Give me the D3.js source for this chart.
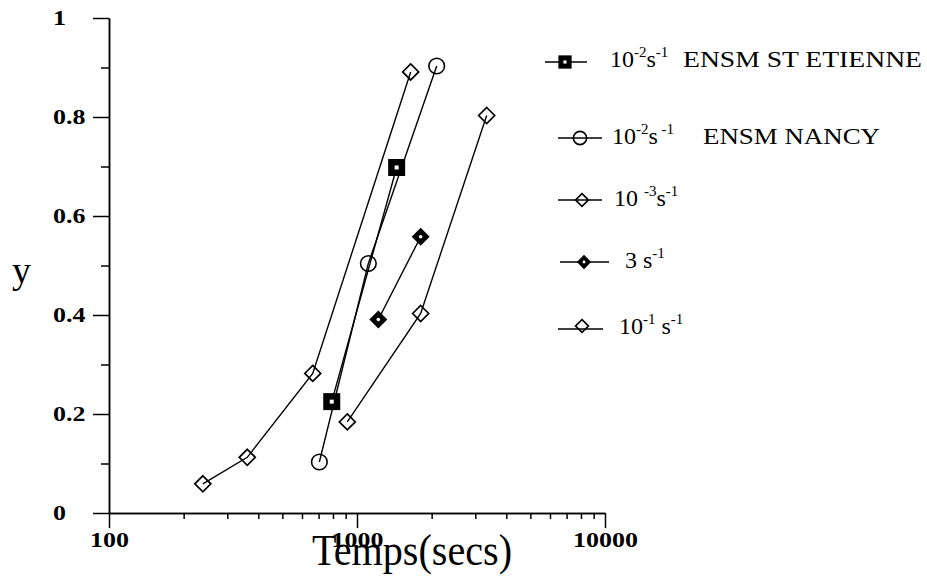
<!DOCTYPE html>
<html><head><meta charset="utf-8">
<script src="https://cdn.jsdelivr.net/npm/d3@7"></script>
<style>body{margin:0;background:#fff}</style>
</head><body>
<svg id="c" width="927" height="577"></svg>
<script>
// ---- data ----
const xTicksMajor = [100, 1000, 10000];
const xTicksMinor = [200,300,400,500,600,700,800,900,2000,3000,4000,5000,6000,7000,8000,9000];
const xTickLabels = ["100", "1000", "10000"];
const yTicksMajor = [0, 0.2, 0.4, 0.6, 0.8, 1];
const yTicksMinor = [0.1, 0.3, 0.5, 0.7, 0.9];
const yTickLabels = ["0", "0.2", "0.4", "0.6", "0.8", "1"];

const stEtienneX = [791, 1445];
const stEtienneY = [0.225, 0.698];
const nancyX = [705, 1111, 2096];
const nancyY = [0.103, 0.504, 0.903];
const rate3X = [914, 1806, 3334];
const rate3Y = [0.184, 0.403, 0.803];
const rate3sX = [1219, 1806];
const rate3sY = [0.391, 0.558];
const rate1X = [239, 361, 663, 1646];
const rate1Y = [0.059, 0.1125, 0.282, 0.891];

// ---- setup ----
const svg = d3.select("#c");
svg.append("rect").attr("width", 927).attr("height", 577).attr("fill", "#fff");
const x = d3.scaleLog().domain([100, 10000]).range([109, 605]);
const y = d3.scaleLinear().domain([0, 1]).range([513, 18]);
const serif = "'Liberation Serif','Times New Roman',serif";

// ---- axes ----
const gx = svg.append("g").attr("transform", "translate(0,513)");
gx.call(d3.axisBottom(x).tickValues(xTicksMinor).tickSize(6).tickSizeOuter(0).tickFormat(""));
const gx2 = svg.append("g").attr("transform", "translate(0,513)");
gx2.call(d3.axisBottom(x).tickValues(xTicksMajor).tickSize(15).tickSizeOuter(0)
  .tickFormat((d, i) => xTickLabels[i]).tickPadding(3));
gx2.selectAll("text").attr("font-family", serif).attr("font-weight", "bold")
  .attr("font-size", 22).attr("fill", "#000").attr("transform", "scale(1.18,1)");

const gy = svg.append("g").attr("transform", "translate(109,0)");
gy.call(d3.axisLeft(y).tickValues(yTicksMinor).tickSize(8).tickSizeOuter(0).tickFormat(""));
const gy2 = svg.append("g").attr("transform", "translate(109,0)");
gy2.call(d3.axisLeft(y).tickValues(yTicksMajor).tickSize(16).tickSizeOuter(0).tickFormat(""));
svg.selectAll(".domain, .tick line").attr("stroke", "#000").attr("stroke-width", 1.5);

svg.append("g").selectAll("text").data(yTicksMajor).join("text")
  .attr("transform", d => `translate(53,${y(d) + 7}) scale(1.18,1)`)
  .attr("font-family", serif).attr("font-weight", "bold").attr("font-size", 22)
  .attr("fill", "#000").text((d, i) => yTickLabels[i]);

// axis titles
svg.append("text").attr("x", 12).attr("y", 283).attr("font-family", serif)
  .attr("font-size", 38).attr("fill", "#000").text("y");
svg.append("text").attr("x", 312).attr("y", 565).attr("font-family", serif)
  .attr("font-size", 44).attr("fill", "#000")
  .attr("textLength", 200).attr("lengthAdjust", "spacingAndGlyphs").text("Temps(secs)");

// ---- markers ----
function marker(g, type, cx, cy, s) {
  s = s || 1;
  if (type === "square") {
    g.append("rect").attr("x", cx - 8.5 * s).attr("y", cy - 8.5 * s).attr("width", 17 * s).attr("height", 17 * s).attr("fill", "#000");
    g.append("rect").attr("x", cx - 2 * s).attr("y", cy - 2 * s).attr("width", 4 * s).attr("height", 4 * s).attr("fill", "#fff");
  } else if (type === "circle") {
    g.append("circle").attr("cx", cx).attr("cy", cy).attr("r", 7.8 * s).attr("fill", "none").attr("stroke", "#000").attr("stroke-width", 1.6);
  } else if (type === "diamond") {
    const h = 8 * s;
    g.append("path").attr("d", `M${cx},${cy - h}L${cx + h},${cy}L${cx},${cy + h}L${cx - h},${cy}Z`)
      .attr("fill", "none").attr("stroke", "#000").attr("stroke-width", 1.7);
  } else if (type === "fdiamond") {
    const h = 9 * s;
    g.append("path").attr("d", `M${cx},${cy - h}L${cx + h},${cy}L${cx},${cy + h}L${cx - h},${cy}Z`).attr("fill", "#000");
    g.append("circle").attr("cx", cx).attr("cy", cy).attr("r", 1.8 * s).attr("fill", "#fff");
  }
}

const series = [
  { xs: stEtienneX, ys: stEtienneY, m: "square" },
  { xs: nancyX, ys: nancyY, m: "circle" },
  { xs: rate3X, ys: rate3Y, m: "diamond" },
  { xs: rate3sX, ys: rate3sY, m: "fdiamond" },
  { xs: rate1X, ys: rate1Y, m: "diamond" }
];
const line = d3.line().x(d => x(d[0])).y(d => y(d[1]));
const plot = svg.append("g");
series.forEach(s => {
  const pts = s.xs.map((v, i) => [v, s.ys[i]]);
  plot.append("path").attr("d", line(pts)).attr("fill", "none").attr("stroke", "#000").attr("stroke-width", 1.4);
});
series.forEach(s => {
  s.xs.forEach((v, i) => marker(plot, s.m, x(v), y(s.ys[i])));
});

// ---- legend ----
const leg = svg.append("g");
const legendItems = [
  { m: "square", x1: 545, x2: 587, mx: 565, ly: 62, my: 62, s: 0.78,
    tx: 610, ty: 67, parts: [["10", 0], ["-2", 1], ["s", 0], ["-1", 1]], extra: "ENSM ST ETIENNE", ex: 683, ew: 239 },
  { m: "circle", x1: 558, x2: 602, mx: 580, ly: 138, my: 138, s: 0.85,
    tx: 612, ty: 144, parts: [["10", 0], ["-2", 1], ["s", 0], [" -1", 1]], extra: "ENSM NANCY", ex: 703, ew: 177 },
  { m: "diamond", x1: 558, x2: 602, mx: 582, ly: 200, my: 200, s: 0.8,
    tx: 614, ty: 206, parts: [["10 ", 0], ["-3", 1], ["s", 0], ["-1", 1]] },
  { m: "fdiamond", x1: 560, x2: 609, mx: 584, ly: 262, my: 262, s: 0.8,
    tx: 625, ty: 268, parts: [["3 s", 0], ["-1", 1]] },
  { m: "diamond", x1: 558, x2: 603, mx: 582, ly: 329, my: 326, s: 0.8,
    tx: 619, ty: 334, parts: [["10", 0], ["-1", 1], [" s", 0], ["-1", 1]] }
];
legendItems.forEach(it => {
  leg.append("line").attr("x1", it.x1).attr("x2", it.x2).attr("y1", it.ly).attr("y2", it.ly)
    .attr("stroke", "#000").attr("stroke-width", 1.5);
  marker(leg, it.m, it.mx, it.my, it.s);
  const t = leg.append("text").attr("x", it.tx).attr("y", it.ty).attr("font-family", serif)
    .attr("font-size", 24).attr("fill", "#000").attr("xml:space", "preserve");
  let up = false;
  it.parts.forEach(p => {
    const ts = t.append("tspan").text(p[0]);
    if (p[1] && !up) { ts.attr("dy", -10).attr("font-size", 15); up = true; }
    else if (p[1]) { ts.attr("font-size", 15); }
    else if (up) { ts.attr("dy", 10); up = false; }
  });
  if (it.extra) {
    leg.append("text").attr("x", it.ex).attr("y", it.ty).attr("font-family", serif)
      .attr("font-size", 24).attr("fill", "#000")
      .attr("textLength", it.ew).attr("lengthAdjust", "spacingAndGlyphs").text(it.extra);
  }
});
</script>
</body></html>
